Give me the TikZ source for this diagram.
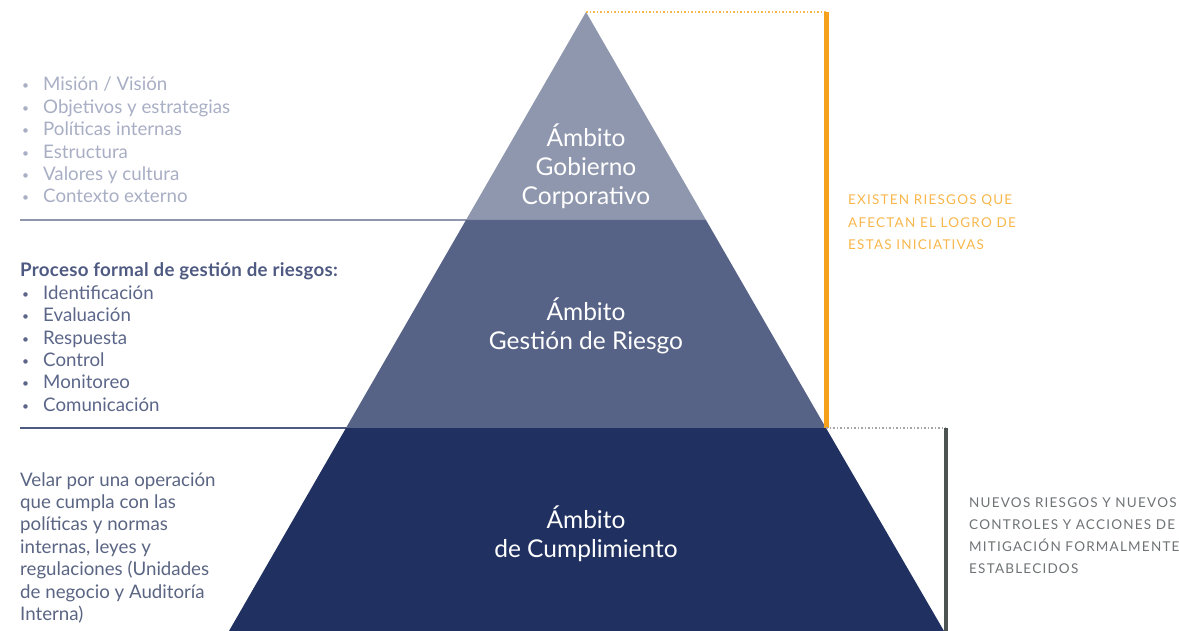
\documentclass[tikz,border=0pt]{standalone}
\usepackage{fontspec}
\setmainfont{Lato}
\usetikzlibrary{positioning}
\definecolor{tiertop}{RGB}{143,151,174}
\definecolor{tiermid}{RGB}{87,99,134}
\definecolor{tierbase}{RGB}{32,48,96}
\definecolor{riskorange}{RGB}{245,161,28}
\definecolor{risktext}{RGB}{247,183,76}
\definecolor{ctrlgrey}{RGB}{77,85,83}
\definecolor{ctrltext}{RGB}{110,115,117}
\definecolor{listlight}{RGB}{168,174,196}
\definecolor{listmid}{RGB}{91,102,137}
\definecolor{listhead}{RGB}{79,90,130}
\definecolor{listdark}{RGB}{90,101,131}
\newcommand{\bul}{\makebox[23pt][l]{\hspace{2pt}\raisebox{1pt}{\fontsize{12}{12}\selectfont\textbullet}}}

\begin{document}
\begin{tikzpicture}[x=1pt, y=-1pt,
		tiertext/.style={anchor=base, inner sep=0pt, text=white, font=\fontsize{24.5}{29}\selectfont},
		sidetext/.style={anchor=base west, inner sep=0pt, font=\fontsize{18.7}{22.4}\selectfont},
		notetext/.style={anchor=base west, inner sep=0pt, font=\fontsize{13.5}{22.3}\selectfont\addfontfeature{LetterSpace=9}}]
	\useasboundingbox (0,0) rectangle (1179,631);
	% Trennlinien links
	\draw [line width=1.5pt, color=tiertop] (20,220) -- (586,220);
	\draw [line width=1.5pt, color=listhead] (20,428) -- (586,428);
	% Pyramide
	\fill [tiertop] (586,12) -- (706,220) -- (466,220) -- cycle;
	\fill [tiermid] (466,220) -- (706,220) -- (826,428) -- (346,428) -- cycle;
	\fill [tierbase] (346,428) -- (826,428) -- (944,631) -- (229,631) -- cycle;
	% Klammern rechts
	\draw [line width=1.3pt, color=risktext, dash pattern=on 1.5pt off 2pt] (586,12) -- (826,12);
	\draw [line width=5pt, color=riskorange] (826,12) -- (826,428);
	\draw [line width=1.3pt, color=gray!70, dash pattern=on 1.5pt off 2pt] (826,428) -- (946,428);
	\draw [line width=4pt, color=ctrlgrey] (946,428) -- (946,631);
	% Texte
	\node[tiertext] (gob) at (586,146.5) {\begin{tabular}[t]{@{}c@{}}Ámbito\\Gobierno\\Corporativo\end{tabular}};
	\node[tiertext] (ges) at (586,320.5) {\begin{tabular}[t]{@{}c@{}}Ámbito\\Gestión de Riesgo\end{tabular}};
	\node[tiertext] (cum) at (586,528.5) {\begin{tabular}[t]{@{}c@{}}Ámbito\\de Cumplimiento\end{tabular}};
	\node[sidetext, text=listlight] (mision) at (20,91) {\begin{tabular}[t]{@{}l@{}}\bul Misión / Visión\\\bul Objetivos y estrategias\\\bul Políticas internas\\\bul Estructura\\\bul Valores y cultura\\\bul Contexto externo\end{tabular}};
	\node[sidetext, text=listmid] (proceso) at (20,277) {\begin{tabular}[t]{@{}l@{}}{\color{listhead}\bfseries\addfontfeature{LetterSpace=1.5} Proceso formal de gestión de riesgos:}\\\bul Identificación\\\bul Evaluación\\\bul Respuesta\\\bul Control\\\bul Monitoreo\\\bul Comunicación\end{tabular}};
	\node[sidetext, text=listdark] (velar) at (20,486) {\begin{tabular}[t]{@{}l@{}}Velar por una operación\\que cumpla con las\\políticas y normas\\internas, leyes y\\regulaciones (Unidades\\de negocio y Auditoría\\Interna)\end{tabular}};
	\node[notetext, text=risktext] (existen) at (848,205) {\begin{tabular}[t]{@{}l@{}}EXISTEN RIESGOS QUE\\AFECTAN EL LOGRO DE\\ESTAS INICIATIVAS\end{tabular}};
	\node[notetext, text=ctrltext] (nuevos) at (969,507) {\begin{tabular}[t]{@{}l@{}}NUEVOS RIESGOS Y NUEVOS\\CONTROLES Y ACCIONES DE\\MITIGACIÓN FORMALMENTE\\ESTABLECIDOS\end{tabular}};
\end{tikzpicture}
\end{document}
